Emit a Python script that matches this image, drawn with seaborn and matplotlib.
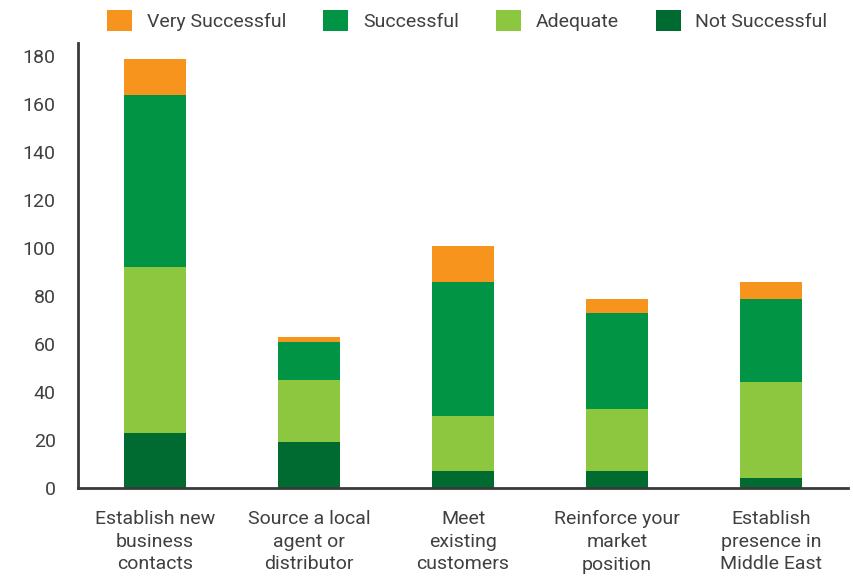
import matplotlib
matplotlib.use("Agg")
import matplotlib.pyplot as plt
from matplotlib.patches import Patch
import seaborn as sns
import numpy as np
import pandas as pd

categories = ["Establish new\nbusiness\ncontacts", "Source a local\nagent or\ndistributor",
              "Meet\nexisting\ncustomers", "Reinforce your\nmarket\nposition",
              "Establish\npresence in\nMiddle East"]
not_successful = [23, 19, 7, 7, 4]
adequate = [69, 26, 23, 26, 40]
successful = [72, 16, 56, 40, 35]
very_successful = [15, 2, 15, 6, 7]

series_names = ["Very Successful", "Successful", "Adequate", "Not Successful"]
colors = {"Very Successful": "#F7941E", "Successful": "#009444",
          "Adequate": "#8DC63F", "Not Successful": "#006B31"}

sns.set_theme(style="white")
plt.rcParams['font.family'] = ['Roboto', 'DejaVu Sans']
text_color = "#404040"

fig = plt.figure(figsize=(8.54, 5.83), dpi=100)
ax = fig.add_axes([0.0913, 0.163, 0.902, 0.763])

stack_order = [("Not Successful", not_successful), ("Adequate", adequate),
               ("Successful", successful), ("Very Successful", very_successful)]
cum = np.zeros(len(categories))
cums = []
for name, vals in stack_order:
    cum = cum + np.array(vals)
    cums.append((name, cum.copy()))

# draw tallest first so smaller cumulative stacks overlay
for name, c in reversed(cums):
    df = pd.DataFrame({"cat": categories, "val": c})
    sns.barplot(data=df, x="cat", y="val", color=colors[name], width=0.4,
                saturation=1, ax=ax, edgecolor="none", linewidth=0)

ax.set_xlim(-0.5, 4.5)
ax.set_ylim(0, 185.5)
ax.set_yticks(range(0, 181, 20))
ax.set_xlabel("")
ax.set_ylabel("")
for s in ["top", "right"]:
    ax.spines[s].set_visible(False)
for s in ["left", "bottom"]:
    ax.spines[s].set_color("#3a3a3a")
    ax.spines[s].set_linewidth(2)
ax.tick_params(axis="y", length=0, pad=16, labelsize=14, labelcolor=text_color)
ax.tick_params(axis="x", length=0, pad=16, labelsize=14, labelcolor=text_color)
for lab in ax.get_xticklabels():
    lab.set_linespacing(1.33)
    lab.set_ha("center")

handles = [Patch(facecolor=colors[n], edgecolor="none", label=n) for n in series_names]
fig.legend(handles=handles, loc="center", bbox_to_anchor=(0.547, 0.965), ncol=4,
           frameon=False, fontsize=14, handlelength=1.3, handleheight=1.3,
           handletextpad=0.75, columnspacing=1.9, labelcolor=text_color)

fig.savefig("out.png", dpi=100)
